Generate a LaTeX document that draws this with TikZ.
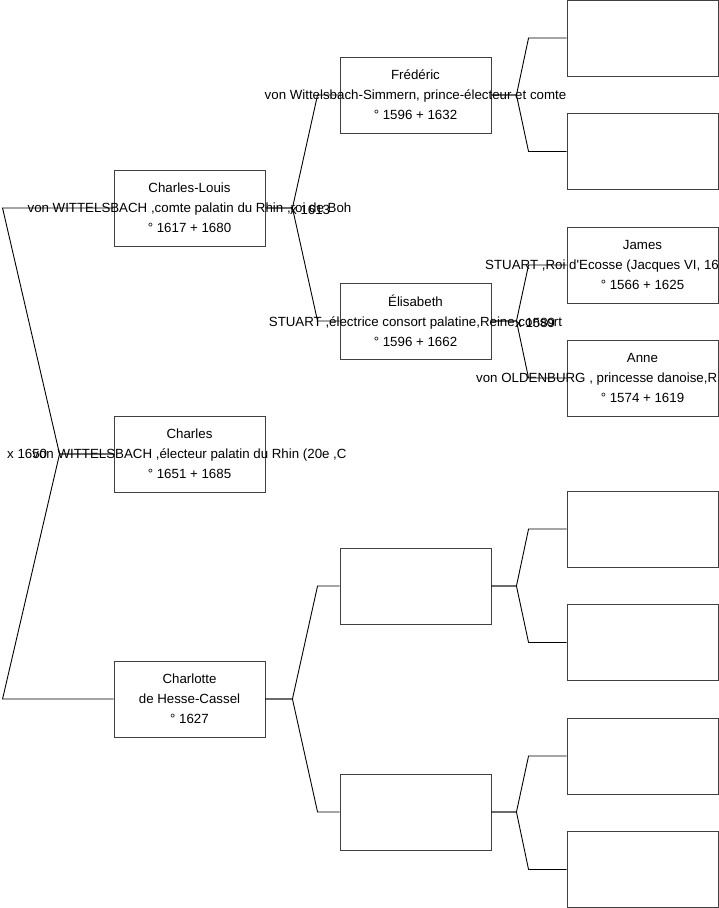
\documentclass[tikz,border=0pt]{standalone}
\usepackage{fontspec}
\setmainfont{Liberation Sans}
\usepackage{tikz}
\usetikzlibrary{positioning, calc}

\tikzset{
    pbox/.style={draw=black!75, line width=0.9pt, minimum width=151pt, minimum height=76pt, inner sep=0pt},
    ptext/.style={align=center, font=\fontsize{13.3}{20}\selectfont, inner sep=0pt},
    link/.style={draw=black, line width=0.9pt}
}

\begin{document}
\begin{tikzpicture}[x=1pt, y=-1pt]
    \useasboundingbox (0,0) rectangle (719,908);

    % --- Boxes ---
    \node[pbox] (charles) at (189.5,454) {};
    \node[pbox] (cl) at (189.5,208) {};
    \node[pbox] (charlotte) at (189.5,699) {};
    \node[pbox] (fred) at (415.5,95) {};
    \node[pbox] (elis) at (415.5,321) {};
    \node[pbox] (hpere) at (415.5,586) {};
    \node[pbox] (hmere) at (415.5,812) {};
    % great-grandparents
    \foreach \y [count=\i] in {38, 151.5, 265, 378, 529, 642.5, 756, 869.5}
        \node[pbox] (g\i) at (642.5,\y) {};

    % --- Connectors ---
    \foreach \p in {cl, charlotte}
        \draw[link] (charles.west) -- ++(-54,0) -- ($(\p.west)+(-111,0)$) -- (\p.west);
    \foreach \k/\a/\b in {cl/fred/elis, charlotte/hpere/hmere} {
        \draw[link] (\k.east) -- ++(27,0) -- ($(\a.west)+(-22,0)$) -- (\a.west);
        \draw[link] (\k.east) -- ++(27,0) -- ($(\b.west)+(-22,0)$) -- (\b.west);
    }
    \foreach \k/\a/\b in {fred/1/2, elis/3/4, hpere/5/6, hmere/7/8} {
        \draw[link] (\k.east) -- ++(25,0) -- ($(g\a.west)+(-38,0)$) -- (g\a.west);
        \draw[link] (\k.east) -- ++(25,0) -- ($(g\b.west)+(-38,0)$) -- (g\b.west);
    }

    % --- Texts ---
    \node[ptext] (tcharles) at (charles) {Charles\\von WITTELSBACH ,électeur palatin du Rhin (20e ,C\\° 1651 + 1685};
    \node[ptext] (tcl) at (cl) {Charles-Louis\\von WITTELSBACH ,comte palatin du Rhin ,roi de Boh\\° 1617 + 1680};
    \node[ptext] (tcharlotte) at (charlotte) {Charlotte\\de Hesse-Cassel\\° 1627};
    \node[ptext] (tfred) at (fred) {Frédéric\\von Wittelsbach-Simmern, prince-électeur et comte\\° 1596 + 1632};
    \node[ptext] (telis) at (elis) {Élisabeth\\STUART ,électrice consort palatine,Reine consort\\° 1596 + 1662};
    \node[ptext] (tjames) at (g3) {James\\\strut\\° 1566 + 1625};
    \node[ptext, anchor=west] (tjames2) at (485,266) {STUART ,Roi d\textquotesingle Ecosse (Jacques VI, 16};
    \node[ptext] (tanne) at (g4) {Anne\\\strut\\° 1574 + 1619};
    \node[ptext, anchor=west] (tanne2) at (476,379) {von OLDENBURG , princesse danoise,R};

    % marriages
    \node[ptext, anchor=west] (m1650) at (7,454) {x 1650};
    \node[ptext, anchor=west] (m1613) at (290,210) {x 1613};
    \node[ptext, anchor=west] (m1589) at (515,323) {x 1589};

\end{tikzpicture}
\end{document}
